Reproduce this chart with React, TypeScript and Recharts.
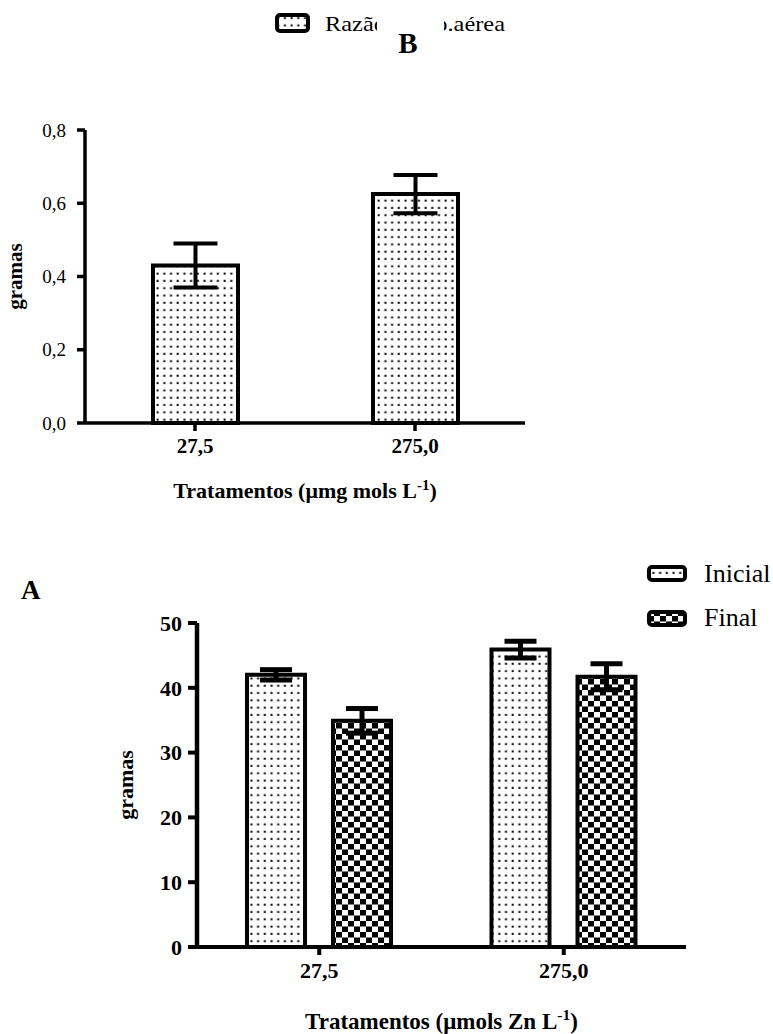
import React from 'react';
import { BarChart, Bar, XAxis, YAxis, ErrorBar } from 'recharts';

// ---------- Data: panel B (Razão raiz/p.aérea) ----------
const categoriesB = ['27,5', '275,0'];
const razaoMeans = [0.43, 0.625];
const razaoErrors = [0.06, 0.052];
const yTicksB = [0, 0.2, 0.4, 0.6, 0.8];

// ---------- Data: panel A (Inicial / Final) ----------
const categoriesA = ['27,5', '275,0'];
const inicialMeans = [42.0, 45.9];
const inicialErrors = [0.8, 1.3];
const finalMeans = [34.9, 41.7];
const finalErrors = [1.9, 2.0];
const yTicksA = [0, 10, 20, 30, 40, 50];

const legendB = 'Razão raiz/p.aérea';
const legendA = ['Inicial', 'Final'];

const dataB = categoriesB.map((c, i) => ({ name: c, value: razaoMeans[i], err: razaoErrors[i] }));
const dataA = categoriesA.map((c, i) => ({
  name: c,
  inicial: inicialMeans[i],
  inicialErr: inicialErrors[i],
  final: finalMeans[i],
  finalErr: finalErrors[i],
}));

const FONT = 'Liberation Serif';

const PatternDefs = ({ prefix }: { prefix: string }) => (
  <defs>
    <pattern id={`${prefix}-dots`} patternUnits="userSpaceOnUse" width={6.7} height={7.3}>
      <rect x={0} y={0} width={6.7} height={7.3} fill="#fff" />
      <rect x={2.5} y={2.5} width={2} height={2} fill="#000" />
    </pattern>
    <pattern id={`${prefix}-check`} patternUnits="userSpaceOnUse" width={12} height={11}>
      <rect x={0} y={0} width={12} height={11} fill="#fff" />
      <rect x={0} y={0} width={6} height={5.5} fill="#000" />
      <rect x={6} y={5.5} width={6} height={5.5} fill="#000" />
    </pattern>
  </defs>
);

const XTitle = (props: any) => {
  const { viewBox, text, fontSize, offset } = props;
  const cx = viewBox.x + viewBox.width / 2;
  const y = viewBox.y + viewBox.height + offset;
  return (
    <text x={cx} y={y} textAnchor="middle" style={{ fontFamily: FONT }} fontWeight="bold" fontSize={fontSize} fill="#000">
      {text}
      <tspan dy={-fontSize * 0.38} fontSize={fontSize * 0.68}>-1</tspan>
      <tspan dy={fontSize * 0.38}>)</tspan>
    </text>
  );
};

const YTitle = (props: any) => {
  const { viewBox, text, fontSize, dx } = props;
  const cx = viewBox.x + dx;
  const cy = viewBox.y + viewBox.height / 2;
  return (
    <text
      x={cx}
      y={cy}
      transform={`rotate(-90, ${cx}, ${cy})`}
      textAnchor="middle"
      style={{ fontFamily: FONT }}
      fontWeight="bold"
      fontSize={fontSize}
      fill="#000"
    >
      {text}
    </text>
  );
};

const fmtComma = (v: number) => v.toFixed(1).replace('.', ',');

export default function App() {
  return (
    <div style={{ position: 'absolute', left: 0, top: 0, width: 773, height: 1034, background: '#fff', overflow: 'hidden', fontFamily: FONT }}>
      {/* Panel B */}
      <div style={{ position: 'absolute', left: 0, top: 0 }}>
        <BarChart width={773} height={520} data={dataB} margin={{ top: 130, bottom: 67, left: 25, right: 248 }} style={{ fontFamily: FONT }}>
          <PatternDefs prefix="b" />
          <XAxis
            dataKey="name"
            height={30}
            axisLine={{ stroke: '#000', strokeWidth: 3.5 }}
            tickLine={{ stroke: '#000', strokeWidth: 3.5 }}
            tickSize={8}
            tickMargin={7}
            tick={{ fill: '#000', fontSize: 21, fontWeight: 'bold', fontFamily: FONT, style: { fontFamily: FONT } }}
            label={{ content: (p: any) => <XTitle {...p} text="Tratamentos (μmg mols L" fontSize={22} offset={45} /> }}
          />
          <YAxis
            width={60}
            domain={[0, 0.8]}
            ticks={yTicksB}
            interval={0}
            tickFormatter={fmtComma}
            axisLine={{ stroke: '#000', strokeWidth: 3.5 }}
            tickLine={{ stroke: '#000', strokeWidth: 3.5 }}
            tickSize={8}
            tickMargin={11}
            tick={{ fill: '#000', fontSize: 19, fontFamily: FONT, style: { fontFamily: FONT } }}
            label={{ content: (p: any) => <YTitle {...p} text="gramas" fontSize={21} dx={-3} /> }}
          />
          <Bar dataKey="value" barSize={85} fill="url(#b-dots)" stroke="#000" strokeWidth={4} isAnimationActive={false}>
            <ErrorBar dataKey="err" width={22} stroke="#000" strokeWidth={4} isAnimationActive={false} />
          </Bar>
        </BarChart>
      </div>

      {/* Panel A */}
      <div style={{ position: 'absolute', left: 0, top: 580 }}>
        <BarChart
          width={773}
          height={454}
          data={dataA}
          barGap={28}
          margin={{ top: 43, bottom: 57, left: 117, right: 87 }}
          style={{ fontFamily: FONT }}
        >
          <PatternDefs prefix="a" />
          <XAxis
            dataKey="name"
            height={30}
            axisLine={{ stroke: '#000', strokeWidth: 4 }}
            tickLine={{ stroke: '#000', strokeWidth: 4 }}
            tickSize={8}
            tickMargin={7}
            tick={{ fill: '#000', fontSize: 22, fontWeight: 'bold', fontFamily: FONT, style: { fontFamily: FONT } }}
            label={{ content: (p: any) => <XTitle {...p} text="Tratamentos (μmols Zn L" fontSize={23} offset={52} /> }}
          />
          <YAxis
            width={80}
            domain={[0, 50]}
            ticks={yTicksA}
            interval={0}
            axisLine={{ stroke: '#000', strokeWidth: 4.5 }}
            tickLine={{ stroke: '#000', strokeWidth: 4 }}
            tickSize={9}
            tickMargin={6}
            tick={{ fill: '#000', fontSize: 22, fontWeight: 'bold', fontFamily: FONT, style: { fontFamily: FONT } }}
            label={{ content: (p: any) => <YTitle {...p} text="gramas" fontSize={22} dx={16} /> }}
          />
          <Bar dataKey="inicial" barSize={58} fill="url(#a-dots)" stroke="#000" strokeWidth={4} isAnimationActive={false}>
            <ErrorBar dataKey="inicialErr" width={16} stroke="#000" strokeWidth={5} isAnimationActive={false} />
          </Bar>
          <Bar dataKey="final" barSize={58} fill="url(#a-check)" stroke="#000" strokeWidth={4} isAnimationActive={false}>
            <ErrorBar dataKey="finalErr" width={16} stroke="#000" strokeWidth={5} isAnimationActive={false} />
          </Bar>
        </BarChart>
      </div>

      {/* Legends and panel letters */}
      <svg
        width={773}
        height={1034}
        style={{ position: 'absolute', left: 0, top: 0, pointerEvents: 'none', fontFamily: FONT }}
      >
        <PatternDefs prefix="lg" />
        {/* Panel B legend */}
        <rect x={277} y={15} width={31} height={16} rx={3} fill="url(#lg-dots)" stroke="#000" strokeWidth={4} />
        <text x={325} y={31} style={{ fontFamily: FONT }} fontSize={22} fill="#000" textLength={180} lengthAdjust="spacingAndGlyphs">
          {legendB}
        </text>
        <rect x={377} y={6} width={67} height={52} fill="#fff" />
        <text x={408} y={53} textAnchor="middle" style={{ fontFamily: FONT }} fontWeight="bold" fontSize={29} fill="#000">
          B
        </text>

        {/* Panel A letter */}
        <text x={21} y={599} style={{ fontFamily: FONT }} fontWeight="bold" fontSize={27} fill="#000">
          A
        </text>
        {/* Panel A legend */}
        <rect x={649} y={567} width={36} height={13} rx={3} fill="url(#lg-dots)" stroke="#000" strokeWidth={4} />
        <text x={704} y={582} style={{ fontFamily: FONT }} fontSize={26} fill="#000">
          {legendA[0]}
        </text>
        <rect x={649} y={612} width={36} height={13} rx={3} fill="url(#lg-check)" stroke="#000" strokeWidth={4} />
        <text x={704} y={626} style={{ fontFamily: FONT }} fontSize={26} fill="#000">
          {legendA[1]}
        </text>
      </svg>
    </div>
  );
}
